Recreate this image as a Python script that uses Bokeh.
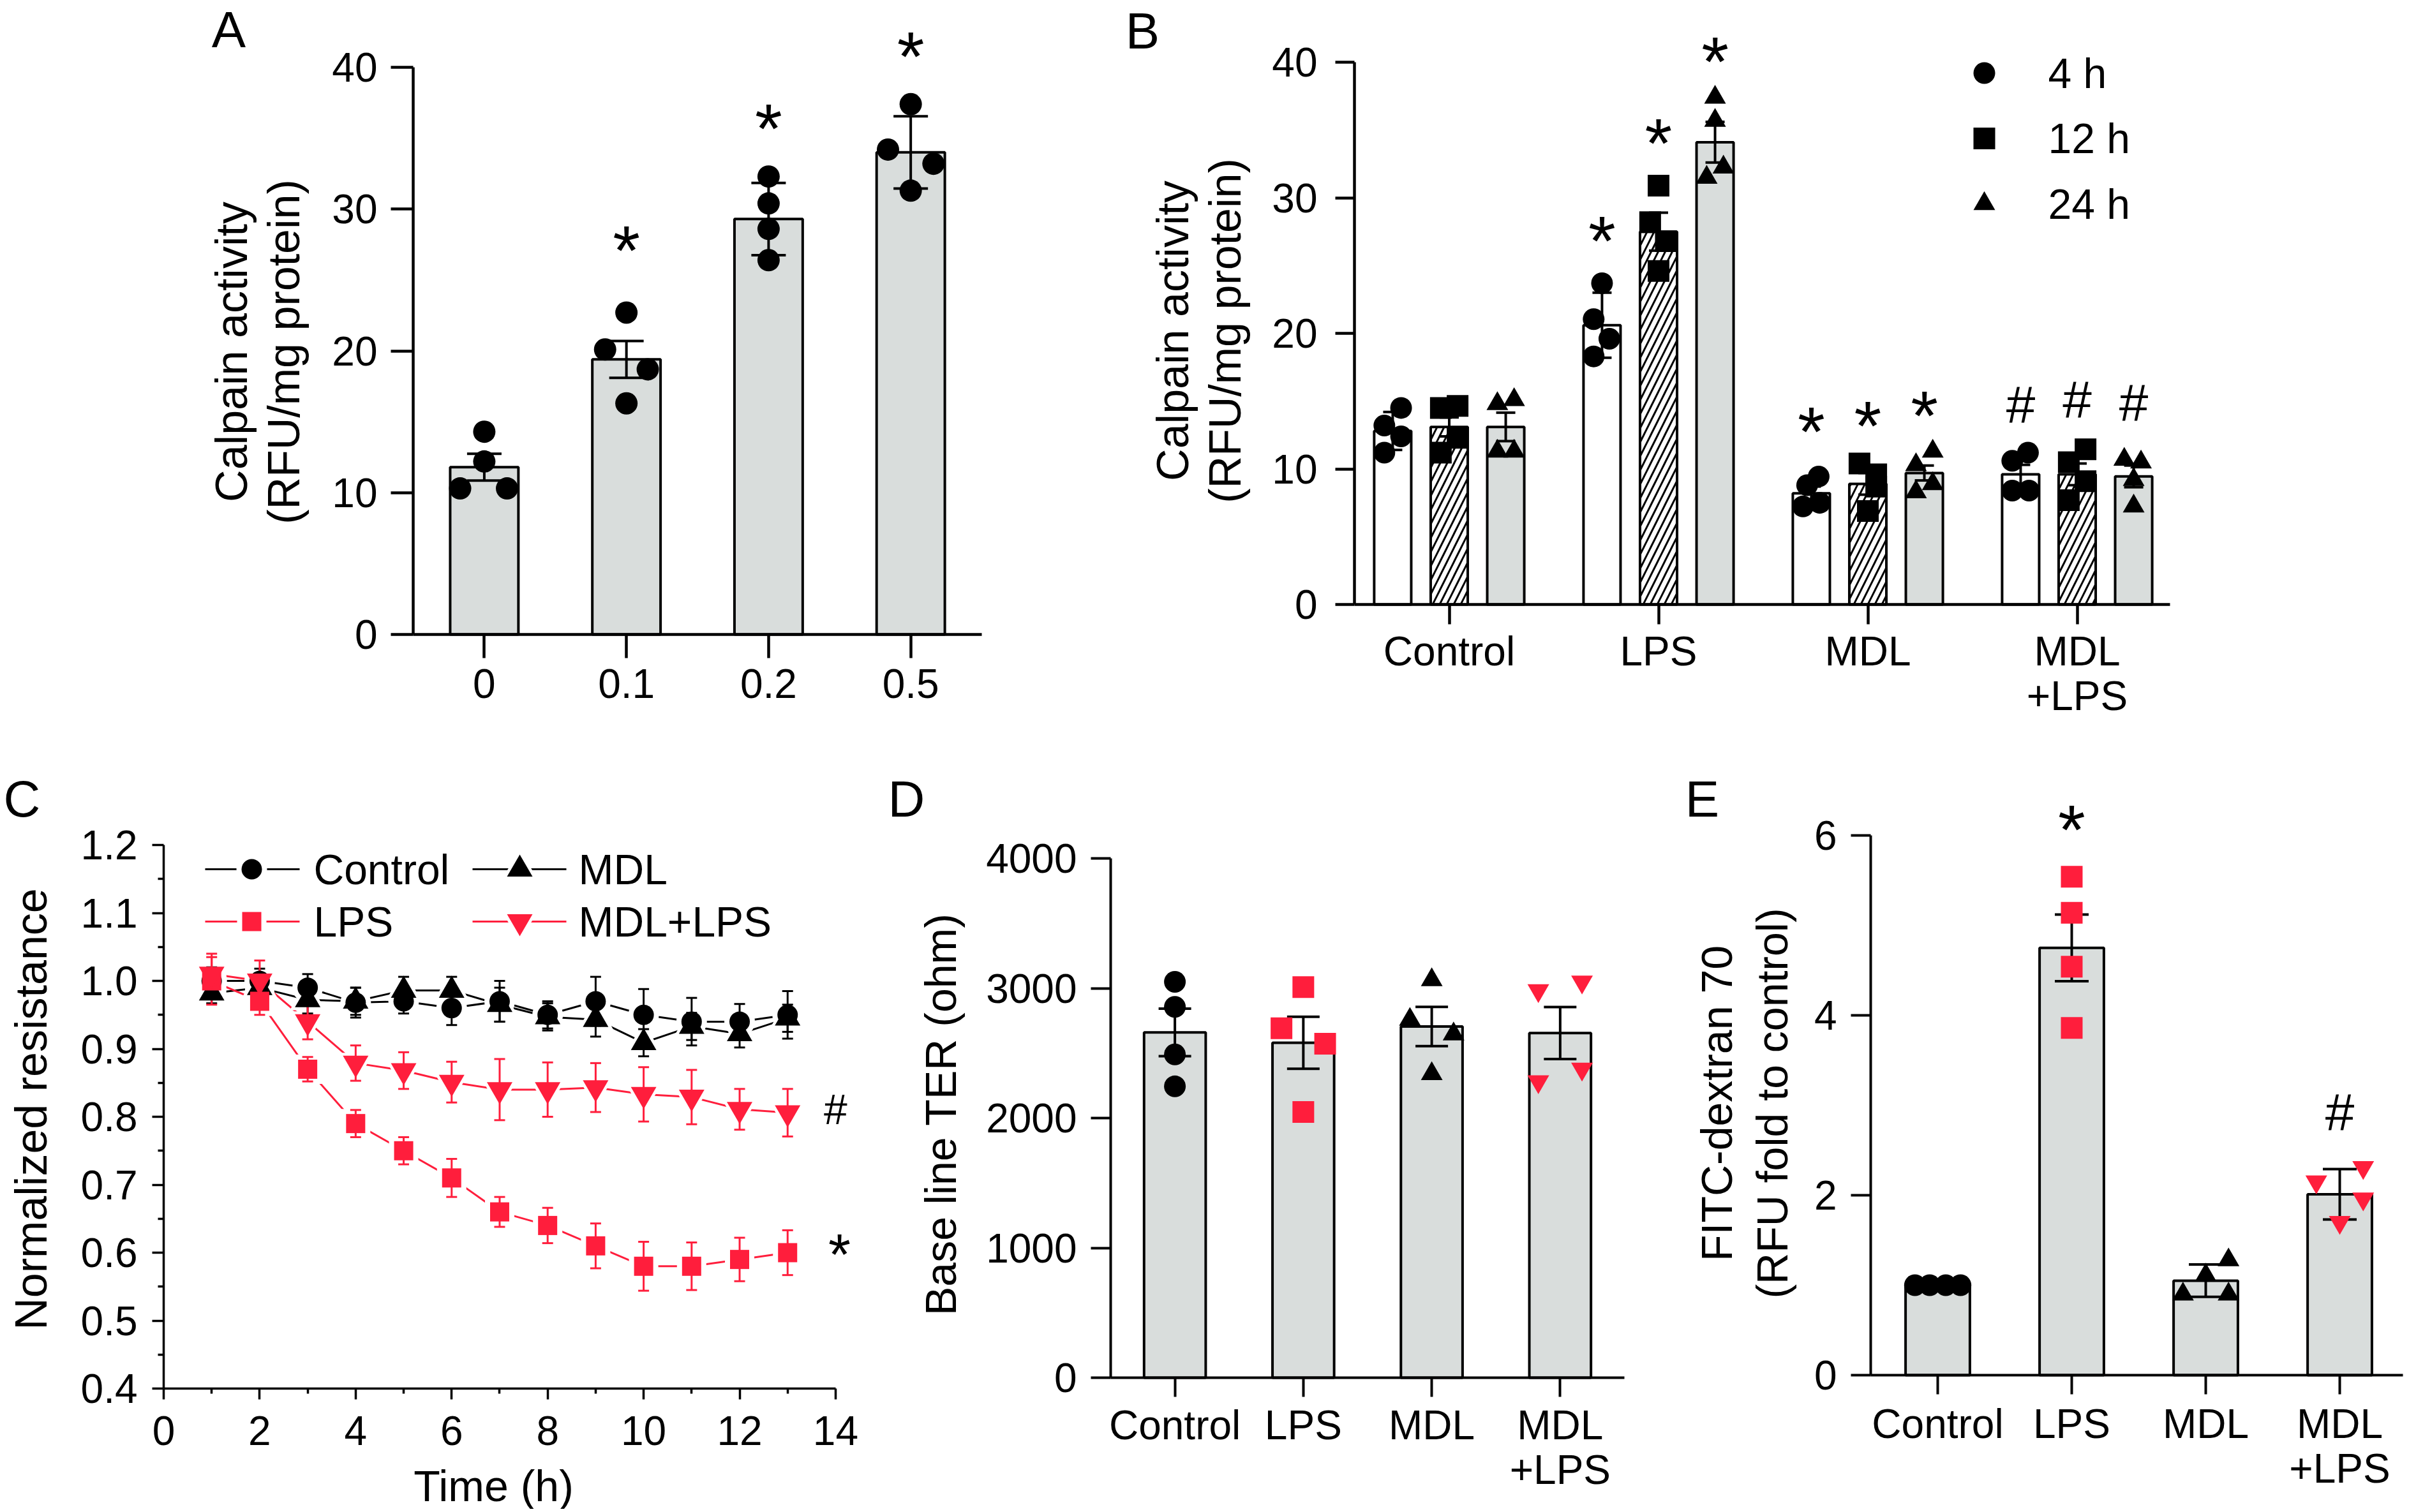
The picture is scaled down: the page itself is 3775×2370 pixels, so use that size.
import math
from bokeh.plotting import figure
from bokeh.layouts import row, column
from bokeh.models import Range1d, FixedTicker, Label, PrintfTickFormatter
from bokeh.embed import file_html
from bokeh.resources import INLINE

FONT = "Liberation Sans"
FS = "64px"        # tick labels
FT_AX = "70px"     # axis titles
FS_LEG = "66px"    # legend text
FS_LET = "80px"    # panel letters
GRAY = "#D9DDDC"
RED = "#FF1E3C"

# ---------------- data ----------------
# Panel A
a_labels = ["0", "0.1", "0.2", "0.5"]
a_mean = [11.8, 19.4, 29.3, 34.0]
a_err = [0.95, 1.3, 2.55, 2.55]
a_points = [[14.3, 12.2, 10.3, 10.3], [22.7, 20.1, 18.7, 16.3],
            [32.3, 30.4, 28.6, 26.4], [37.4, 34.2, 33.2, 31.3]]
a_jitter = [[0, 0, -0.17, 0.16], [0, -0.15, 0.15, 0], [0, 0, 0, 0], [0, -0.16, 0.16, 0]]
a_star_y = [None, 27.7, 36.3, 41.4]

# Panel B
b_groups = ["Control", "LPS", "MDL", "MDL\n+LPS"]
b_times = ["4 h", "12 h", "24 h"]
b_mean_4h = [12.8, 20.6, 8.2, 9.6]
b_mean_12h = [13.1, 27.5, 8.9, 9.6]
b_mean_24h = [13.1, 34.1, 9.7, 9.45]
b_err_4h = [1.4, 2.4, 0.5, 0.7]
b_err_12h = [0.7, 1.4, 0.8, 0.8]
b_err_24h = [1.05, 1.5, 0.55, 0.8]
b_pts_4h = [[14.5, 13.2, 12.4, 11.2], [23.7, 21.05, 19.6, 18.3], [9.44, 8.8, 7.23, 7.5], [11.2, 10.6, 8.4, 8.4]]
b_pts_12h = [[14.5, 14.65, 12.3, 11.2], [30.9, 28.2, 26.8, 24.6], [10.4, 9.6, 8.7, 6.9], [11.45, 10.5, 9.1, 7.7]]
b_pts_24h = [[14.8, 15.1, 11.3, 11.3], [37.4, 35.7, 32.25, 31.5], [11.3, 10.3, 8.9, 8.3], [10.7, 10.5, 9.2, 7.25]]
b_jit_4h = [[0.04, -0.04, 0.04, -0.04], [0, -0.04, 0.035, -0.04], [0.035, -0.02, -0.04, 0.04], [0.035, -0.04, -0.04, 0.04]]
b_jit_12h = [[-0.04, 0.04, 0.04, -0.04], [0, -0.04, 0.035, 0], [-0.04, 0.04, 0.04, 0], [0.04, -0.04, 0.04, -0.04]]
b_jit_24h = [[-0.04, 0.04, -0.04, 0.04], [0, 0, 0.04, -0.04], [0.04, -0.04, 0.04, -0.04], [-0.045, 0.035, 0, 0]]
b_star_4h = [None, 27.5, 13.4, None]
b_star_12h = [None, 34.7, 13.85, None]
b_star_24h = [None, 40.7, 14.6, None]
b_hash_4h = [None, None, None, 14.8]
b_hash_12h = [None, None, None, 15.15]
b_hash_24h = [None, None, None, 14.9]

# Panel C
c_time = [1, 2, 3, 4, 5, 6, 7, 8, 9, 10, 11, 12, 13]
c_control = [1.00, 1.00, 0.99, 0.968, 0.97, 0.96, 0.97, 0.95, 0.97, 0.95, 0.94, 0.94, 0.95]
c_control_err = [0.02, 0.018, 0.02, 0.022, 0.018, 0.025, 0.03, 0.02, 0.036, 0.038, 0.035, 0.026, 0.035]
c_mdl = [0.982, 0.99, 0.972, 0.97, 0.986, 0.986, 0.965, 0.947, 0.943, 0.909, 0.933, 0.922, 0.945]
c_mdl_err = [0.015, 0.02, 0.02, 0.02, 0.02, 0.02, 0.025, 0.02, 0.025, 0.02, 0.02, 0.02, 0.02]
c_lps = [1.00, 0.97, 0.87, 0.79, 0.75, 0.71, 0.66, 0.64, 0.61, 0.58, 0.58, 0.59, 0.60]
c_lps_err = [0.035, 0.02, 0.018, 0.02, 0.02, 0.028, 0.022, 0.026, 0.033, 0.036, 0.035, 0.032, 0.033]
c_mdllps = [1.01, 1.00, 0.94, 0.879, 0.868, 0.851, 0.84, 0.84, 0.843, 0.833, 0.829, 0.811, 0.806]
c_mdllps_err = [0.03, 0.03, 0.026, 0.026, 0.027, 0.03, 0.045, 0.04, 0.036, 0.04, 0.04, 0.03, 0.035]
c_x_ticks = [0, 2, 4, 6, 8, 10, 12, 14]
c_y_ticks = [0.4, 0.5, 0.6, 0.7, 0.8, 0.9, 1.0, 1.1, 1.2]

# Panel D
d_groups = ["Control", "LPS", "MDL", "MDL\n+LPS"]
d_mean = [2660, 2580, 2705, 2655]
d_err = [183, 200, 151, 200]
d_points = [[3049, 2856, 2490, 2244], [3008, 2692, 2572, 2047],
            [3064, 2759, 2647, 2341], [2982, 3049, 2281, 2378]]
d_jitter = [[0, 0, 0, 0], [0, -0.17, 0.17, 0], [0, -0.17, 0.17, 0], [-0.17, 0.17, -0.17, 0.17]]

# Panel E
e_groups = ["Control", "LPS", "MDL", "MDL\n+LPS"]
e_mean = [1.0, 4.75, 1.05, 2.01]
e_err = [0.0, 0.37, 0.18, 0.28]
e_points = [[1.0, 1.0, 1.0, 1.0], [5.54, 5.14, 4.54, 3.86],
            [1.28, 1.11, 0.90, 0.90], [2.15, 2.31, 1.96, 1.70]]
e_jitter = [[-0.17, -0.06, 0.06, 0.17], [0, 0, 0, 0], [0.17, 0, -0.17, 0.17], [-0.175, 0.175, 0.175, 0]]
e_star_y = [None, 6.16, None, None]
e_hash_y = [None, None, None, 2.93]

group_markers = ["circle", "square", "triangle", "inverted_triangle"]
group_colors = ["black", RED, "black", RED]


# ---------------- helpers ----------------
class Panel:
    """A figure whose plotting frame fills its whole box; maps page pixels <-> data."""
    def __init__(self, box, xv0, X0, sx, yv0, Y0, sy):
        self.box = box
        self.xv0, self.X0, self.sx = xv0, X0, sx
        self.yv0, self.Y0, self.sy = yv0, Y0, sy
        L, T, R, B = box
        self.xr = (self.dx(L), self.dx(R))
        self.yr = (self.dy(B), self.dy(T))

    def dx(self, X):
        return self.xv0 + (X - self.X0) / self.sx

    def dy(self, Y):
        return self.yv0 + (self.Y0 - Y) / self.sy


def make_fig(P):
    L, T, R, B = P.box
    p = figure(width=R - L, height=B - T,
               min_border_left=0, min_border_right=0, min_border_top=0, min_border_bottom=0,
               x_range=Range1d(*P.xr), y_range=Range1d(*P.yr),
               toolbar_location=None, tools="", output_backend="svg")
    p.xgrid.visible = False
    p.ygrid.visible = False
    p.outline_line_color = None
    p.background_fill_color = "white"
    p.border_fill_color = "white"
    return p


def style(p, lw, xt_out, yt_out, xstand, ystand, x_at, y_at, xb, yb):
    for ax, tout, st in ((p.xaxis[0], xt_out, xstand), (p.yaxis[0], yt_out, ystand)):
        ax.axis_line_width = lw
        ax.axis_line_color = "black"
        ax.major_tick_line_width = lw
        ax.major_tick_line_color = "black"
        ax.major_tick_in = 0
        ax.major_tick_out = tout
        ax.minor_tick_line_color = None
        ax.major_label_text_font = FONT
        ax.major_label_text_font_size = FS
        ax.major_label_text_color = "black"
        ax.major_label_standoff = st
    p.xaxis.fixed_location = x_at
    p.yaxis.fixed_location = y_at
    p.xaxis.bounds = xb
    p.yaxis.bounds = yb


def add_label(p, P, text, X, Y, size=FS, angle=0.0, align="center"):
    p.add_layout(Label(x=P.dx(X), y=P.dy(Y), text=text, text_font=FONT, text_font_size=size,
                       angle=angle, text_align=align, text_baseline="middle",
                       text_color="black"))


def errorbars(p, xs, means, errs, cap, lw, color="black"):
    lo = [m - e for m, e in zip(means, errs)]
    hi = [m + e for m, e in zip(means, errs)]
    p.segment(x0=xs, y0=lo, x1=xs, y1=hi, line_color=color, line_width=lw)
    p.scatter(x=list(xs) + list(xs), y=hi + lo, marker="dash", size=cap,
              line_color=color, line_width=lw)


def sig(p, P, xs, ys, symbol, size_px, down_px):
    for x, y in zip(xs, ys):
        if y is None:
            continue
        p.add_layout(Label(x=x, y=y - down_px / P.sy, text=symbol, text_font=FONT,
                           text_font_size=f"{size_px}px", text_align="center",
                           text_baseline="middle", text_color="black"))


def legend_entry(p, P, Xm, Y, marker, size, color, label, Xt, line=None):
    """Legend key drawn in the panel: optional line, marker and its label."""
    if line is not None:
        p.segment(x0=[P.dx(line[0])], y0=[P.dy(Y)], x1=[P.dx(line[1])], y1=[P.dy(Y)],
                  line_color=color, line_width=3)
        p.scatter(x=[P.dx(Xm)], y=[P.dy(Y)], marker=marker, size=size + 16,
                  fill_color="white", line_color=None)
    p.scatter(x=[P.dx(Xm)], y=[P.dy(Y)], marker=marker, size=size,
              fill_color=color, line_color=None)
    add_label(p, P, label, Xt, Y, FS_LEG, 0.0, "left")


def flat(lst):
    return [v for sub in lst for v in sub]


def jit(centers, jitters):
    return [c + j for c, js in zip(centers, jitters) for j in js]


# ---------------- Panel A ----------------
PA = Panel((0, 0, 1700, 1170), 0, 758.4, 222.75, 0, 994, 22.225)
pa = make_fig(PA)
xa = list(range(len(a_mean)))
pa.vbar(x=xa, top=a_mean, bottom=0, width=0.48, fill_color=GRAY, line_color="black", line_width=4)
errorbars(pa, xa, a_mean, a_err, 54, 4)
pa.scatter(x=jit(xa, a_jitter), y=flat(a_points), marker="circle", size=35,
           fill_color="black", line_color=None)
style(pa, 4.5, 37, 35, 17, 21, 0, PA.dx(647), (PA.dx(647), PA.dx(1538)), (0, 40))
pa.xaxis.ticker = FixedTicker(ticks=xa)
pa.xaxis.major_label_overrides = {i: t for i, t in enumerate(a_labels)}
pa.yaxis.ticker = FixedTicker(ticks=[0, 10, 20, 30, 40])
add_label(pa, PA, "Calpain activity", 362, 551, FT_AX, math.pi / 2)
add_label(pa, PA, "(RFU/mg protein)", 444, 551, FT_AX, math.pi / 2)
sig(pa, PA, xa, a_star_y, "*", 110, 13)
add_label(pa, PA, "A", 358, 46, FS_LET)

# ---------------- Panel B ----------------
PB = Panel((1700, 0, 3770, 1170), 0, 2270.5, 328, 0, 947, 21.25)
pb = make_fig(PB)
xb = list(range(len(b_groups)))
offs = [-0.27, 0.0, 0.27]
bw = 0.177
series_b = [
    (b_mean_4h, b_err_4h, b_pts_4h, b_jit_4h, "circle", dict(fill_color="white")),
    (b_mean_12h, b_err_12h, b_pts_12h, b_jit_12h, "square",
     dict(fill_color="white", hatch_pattern="/", hatch_color="black", hatch_weight=3, hatch_scale=22)),
    (b_mean_24h, b_err_24h, b_pts_24h, b_jit_24h, "triangle", dict(fill_color=GRAY)),
]
for (mean, err, pts, jt, mk, fill), off in zip(series_b, offs):
    xs = [x + off for x in xb]
    pb.vbar(x=xs, top=mean, bottom=0, width=bw, line_color="black", line_width=4, **fill)
for (mean, err, pts, jt, mk, fill), off in zip(series_b, offs):
    xs = [x + off for x in xb]
    errorbars(pb, xs, mean, err, 30, 4)
for (mean, err, pts, jt, mk, fill), off in zip(series_b, offs):
    xs = [x + off for x in xb]
    pb.scatter(x=jit(xs, jt), y=flat(pts), marker=mk, size=34,
               fill_color="black", line_color=None)
style(pb, 4.5, 31, 30, 6, 28, 0, PB.dx(2122), (PB.dx(2122), PB.dx(3400)), (0, 40))
pb.xaxis.ticker = FixedTicker(ticks=xb)
pb.xaxis.major_label_overrides = {i: t for i, t in enumerate(b_groups)}
pb.xaxis.major_label_text_line_height = 0.98
pb.yaxis.ticker = FixedTicker(ticks=[0, 10, 20, 30, 40])
for i, (t, (mean, err, pts, jt, mk, fill)) in enumerate(zip(b_times, series_b)):
    legend_entry(pb, PB, 3109, 114 + 102.5 * i, mk, 34, "black", t, 3209)
add_label(pb, PB, "Calpain activity", 1837, 518, FT_AX, math.pi / 2)
add_label(pb, PB, "(RFU/mg protein)", 1919, 518, FT_AX, math.pi / 2)
for stars, hashes, off in zip([b_star_4h, b_star_12h, b_star_24h],
                              [b_hash_4h, b_hash_12h, b_hash_24h], offs):
    xs = [x + off for x in xb]
    sig(pb, PB, xs, stars, "*", 110, 13)
    sig(pb, PB, xs, hashes, "#", 82, 0)
add_label(pb, PB, "B", 1790, 48, FS_LET)

# ---------------- bottom row ----------------
ROW2 = (1170, 2365)

# ---------------- Panel C ----------------
PC = Panel((0, ROW2[0], 1350, ROW2[1]), 0, 256, 75.21, 0.4, 2176, 1065)
pc = make_fig(PC)
series_c = [
    ("Control", c_control, c_control_err, "black", "circle", 32),
    ("MDL", c_mdl, c_mdl_err, "black", "triangle", 40),
    ("LPS", c_lps, c_lps_err, RED, "square", 30),
    ("MDL+LPS", c_mdllps, c_mdllps_err, RED, "inverted_triangle", 40),
]
for name, ys, es, col, mk, sz in series_c:
    pc.line(c_time, ys, line_color=col, line_width=3)
for name, ys, es, col, mk, sz in series_c:
    pc.scatter(c_time, ys, marker=mk, size=sz + 16, fill_color="white", line_color=None)
for name, ys, es, col, mk, sz in series_c:
    errorbars(pc, c_time, ys, es, 17, 3, col)
for name, ys, es, col, mk, sz in series_c:
    pc.scatter(c_time, ys, marker=mk, size=sz, fill_color=col, line_color=None)
style(pc, 3.5, 17, 18, 26, 23, 0.4, 0, (0, 14), (0.4, 1.2))
pc.xaxis.ticker = FixedTicker(ticks=c_x_ticks, minor_ticks=[1, 3, 5, 7, 9, 11, 13])
pc.yaxis.ticker = FixedTicker(ticks=c_y_ticks,
                              minor_ticks=[0.45, 0.55, 0.65, 0.75, 0.85, 0.95, 1.05, 1.15])
pc.yaxis.formatter = PrintfTickFormatter(format="%.1f")
for ax, mo in ((pc.xaxis[0], 8), (pc.yaxis[0], 9)):
    ax.minor_tick_line_color = "black"
    ax.minor_tick_line_width = 3.5
    ax.minor_tick_in = 0
    ax.minor_tick_out = mo
leg_cols = {"Control": (321, 469, 394, 491, 1362), "LPS": (321, 469, 394, 491, 1444),
            "MDL": (740, 887, 814, 906, 1362), "MDL+LPS": (740, 887, 814, 906, 1444)}
for name, ys, es, col, mk, sz in series_c:
    l0, l1, xm, xt, yy = leg_cols[name]
    legend_entry(pc, PC, xm, yy, mk, sz, col, name, xt, line=(l0, l1))
add_label(pc, PC, "Normalized resistance", 48, 1738, FT_AX, math.pi / 2)
add_label(pc, PC, "Time (h)", 773, 2328, "68px")
sig(pc, PC, [14.0], [c_mdllps[-1] + 0.005], "#", 66, 0)
sig(pc, PC, [14.08], [c_lps[-1] + 0.005], "*", 90, 9)
add_label(pc, PC, "C", 34, 1252, FS_LET)


# ---------------- Panels D and E ----------------
def bar_panel(P, groups, mean, err, pts, jitter, ticks, bound, cap, ylabels, msize,
              y_axis_X, x_end_X, xstand):
    p = make_fig(P)
    xs = list(range(len(groups)))
    p.vbar(x=xs, top=mean, bottom=0, width=0.48, fill_color=GRAY, line_color="black", line_width=4)
    errorbars(p, xs, mean, err, cap, 4)
    for i in xs:
        p.scatter(x=[i + j for j in jitter[i]], y=pts[i], marker=group_markers[i],
                  size=msize, fill_color=group_colors[i], line_color=None)
    style(p, 4, 30, 31, xstand, 22, 0, P.dx(y_axis_X), (P.dx(y_axis_X), P.dx(x_end_X)), bound)
    p.xaxis.ticker = FixedTicker(ticks=xs)
    p.xaxis.major_label_overrides = {i: t for i, t in enumerate(groups)}
    p.xaxis.major_label_text_line_height = 0.98
    p.yaxis.ticker = FixedTicker(ticks=ticks)
    for txt, X, Y in ylabels:
        add_label(p, P, txt, X, Y, "68px", math.pi / 2)
    return p, xs


PD = Panel((1350, ROW2[0], 2600, ROW2[1]), 0, 1840.6, 201.25, 0, 2159, 814 / 4000)
pd_, xd = bar_panel(PD, d_groups, d_mean, d_err, d_points, d_jitter,
                    [0, 1000, 2000, 3000, 4000], (0, 4000), 51,
                    [("Base line TER (ohm)", 1473, 1746)], 34, 1740, 2545, 8)
add_label(pd_, PD, "D", 1420, 1252, FS_LET)

PE = Panel((2600, ROW2[0], 3770, ROW2[1]), 0, 3036, 210, 0, 2155, 141)
pe, xe = bar_panel(PE, e_groups, e_mean, e_err, e_points, e_jitter,
                   [0, 2, 4, 6], (0, 6), 53,
                   [("FITC-dextran 70", 2689, 1729), ("(RFU fold to control)", 2776, 1729)], 34,
                   2931, 3765, 10)
sig(pe, PE, xe, e_star_y, "*", 110, 13)
sig(pe, PE, xe, e_hash_y, "#", 82, 0)
add_label(pe, PE, "E", 2667, 1252, FS_LET)

layout = column(row(pa, pb, spacing=0), row(pc, pd_, pe, spacing=0), spacing=0)

with open("out.html", "w") as f:
    f.write(file_html(layout, INLINE))
